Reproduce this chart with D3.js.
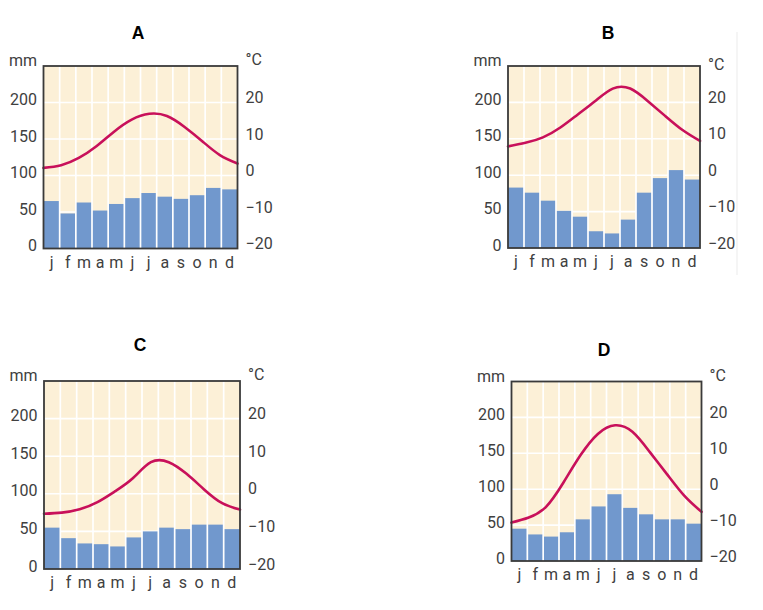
<!DOCTYPE html>
<html>
<head>
<meta charset="utf-8">
<script src="https://cdn.jsdelivr.net/npm/d3@7"></script>
<style>
  html, body { margin: 0; padding: 0; background: #fff; }
  svg { display: block; }
</style>
</head>
<body>
<svg id="chart" width="763" height="610"></svg>
<script>
// ---- data ----
const months = ["j", "f", "m", "a", "m", "j", "j", "a", "s", "o", "n", "d"];
const titles = ["A", "B", "C", "D"];
const mmTicks = [0, 50, 100, 150, 200];
const tempTicks = [-20, -10, 0, 10, 20];

const precipA = [65, 48, 63, 52, 61, 69, 76, 71, 68, 73, 83, 81];
const tempA   = [2.1, 2.8, 4.8, 8.0, 12.0, 15.3, 16.9, 16.3, 13.3, 9.4, 5.6, 3.3];

const precipB = [83, 76, 65, 51, 43, 23, 20, 39, 76, 96, 107, 94];
const tempB   = [7.9, 8.9, 10.4, 13.1, 16.7, 20.4, 23.8, 23.8, 20.4, 16.3, 12.4, 9.4];

const precipC = [55, 41, 34, 33, 30, 42, 50, 55, 53, 59, 59, 53];
const tempC   = [-5.3, -5.0, -4.1, -2.2, 0.7, 4.2, 8.4, 8.4, 5.3, 1.1, -2.5, -4.2];

const precipD = [45, 37, 34, 40, 58, 76, 93, 74, 65, 58, 58, 52];
const tempD   = [-9.3, -7.9, -4.9, 1.8, 9.5, 15.4, 17.8, 16.0, 10.4, 4.2, -1.8, -6.3];

// ---- layout (positions only) ----
const layout = [
  { left: 43.5, right: 237.5, top: 66,  bottom: 248.5, tx: 138, ty: 39, cdy: 0 },
  { left: 508,  right: 700,   top: 66,  bottom: 248,   tx: 608, ty: 39, cdy: 5 },
  { left: 44,   right: 240,   top: 381, bottom: 569,   tx: 140, ty: 351, cdy: 0 },
  { left: 511.5,right: 701.5, top: 381.5, bottom: 561, tx: 604, ty: 356, cdy: 0 }
];

const panels = [
  { title: titles[0], precip: precipA, temp: tempA },
  { title: titles[1], precip: precipB, temp: tempB },
  { title: titles[2], precip: precipC, temp: tempC },
  { title: titles[3], precip: precipD, temp: tempD }
];

const COL_BG = "#fcf0d7";
const COL_BAR = "#7198cd";
const COL_LINE = "#c8105a";
const COL_FRAME = "#3a3a3a";
const COL_TEXT = "#404040";
const FONT = "Roboto, 'Liberation Sans', sans-serif";
const FS = 16;

const svg = d3.select("#chart");

// faint separator line on the right of the image
svg.append("line")
  .attr("x1", 737).attr("x2", 737).attr("y1", 32).attr("y2", 275)
  .attr("stroke", "#ebebeb").attr("stroke-width", 1);

panels.forEach((p, k) => {
  const L = layout[k];
  const g = svg.append("g");
  const idx = d3.range(months.length);

  const xb = d3.scaleBand().domain(idx).range([L.left, L.right]).paddingInner(0).paddingOuter(0);
  const xp = d3.scalePoint().domain(idx).range([L.left, L.right]).padding(0);
  const y = d3.scaleLinear().domain([0, 250]).range([L.bottom, L.top]);
  const yt = d3.scaleLinear().domain([-20, 30]).range([L.bottom, L.top]);

  // background
  g.append("rect")
    .attr("x", L.left).attr("y", L.top)
    .attr("width", L.right - L.left).attr("height", L.bottom - L.top)
    .attr("fill", COL_BG);

  // horizontal grid
  g.selectAll(".hg").data(mmTicks.filter(d => d > 0)).enter().append("line")
    .attr("x1", L.left).attr("x2", L.right)
    .attr("y1", d => y(d)).attr("y2", d => y(d))
    .attr("stroke", "#ffffff").attr("stroke-width", 1.6);

  // bars
  g.selectAll(".bar").data(p.precip).enter().append("rect")
    .attr("x", (d, i) => xb(i))
    .attr("width", xb.bandwidth())
    .attr("y", d => y(d))
    .attr("height", d => y(0) - y(d))
    .attr("fill", COL_BAR);

  // vertical grid (month separators)
  g.selectAll(".vg").data(idx.slice(1)).enter().append("line")
    .attr("x1", i => xb(i)).attr("x2", i => xb(i))
    .attr("y1", L.top).attr("y2", L.bottom)
    .attr("stroke", "#ffffff").attr("stroke-width", 1.7);

  // temperature line
  const line = d3.line()
    .x((d, i) => xp(i))
    .y(d => yt(d))
    .curve(d3.curveNatural);
  g.append("path")
    .datum(p.temp)
    .attr("d", line)
    .attr("fill", "none")
    .attr("stroke", COL_LINE)
    .attr("stroke-width", 2.6)
    .attr("stroke-linecap", "round");

  // frame
  g.append("rect")
    .attr("x", L.left).attr("y", L.top)
    .attr("width", L.right - L.left).attr("height", L.bottom - L.top)
    .attr("fill", "none")
    .attr("stroke", COL_FRAME).attr("stroke-width", 1.8);

  // left axis (mm)
  const axL = d3.axisLeft(y).tickValues(mmTicks).tickSize(0).tickPadding(6.5);
  const gl = g.append("g").attr("transform", `translate(${L.left},0)`).call(axL);
  gl.select(".domain").remove();
  gl.selectAll("text")
    .attr("font-family", FONT).attr("font-size", FS)
    .attr("fill", COL_TEXT).attr("dy", "0.32em")
    .attr("transform", "translate(0,-3)");

  // right axis (°C)
  const axR = d3.axisRight(yt).tickValues(tempTicks).tickSize(0).tickPadding(8)
    .tickFormat(d => d < 0 ? "\u2212" + Math.abs(d) : String(d));
  const gr = g.append("g").attr("transform", `translate(${L.right},0)`).call(axR);
  gr.select(".domain").remove();
  gr.selectAll("text")
    .attr("font-family", FONT).attr("font-size", FS)
    .attr("fill", COL_TEXT).attr("dy", "0.32em")
    .attr("transform", "translate(0,-5)");

  // bottom axis (months)
  const axB = d3.axisBottom(xb).tickSize(0).tickPadding(0).tickFormat(i => months[i]);
  const gb = g.append("g").attr("transform", `translate(0,${L.bottom})`).call(axB);
  gb.select(".domain").remove();
  gb.selectAll("text")
    .attr("font-family", FONT).attr("font-size", FS)
    .attr("fill", COL_TEXT).attr("dy", null).attr("y", 19);

  // unit labels
  g.append("text")
    .attr("x", L.left - 6.5).attr("y", L.top)
    .attr("text-anchor", "end")
    .attr("font-family", FONT).attr("font-size", FS).attr("fill", COL_TEXT)
    .text("mm");
  g.append("text")
    .attr("x", L.right + 8).attr("y", L.top - 1 + L.cdy)
    .attr("text-anchor", "start")
    .attr("font-family", FONT).attr("font-size", FS).attr("fill", COL_TEXT)
    .text("°C");

  // title
  g.append("text")
    .attr("x", L.tx).attr("y", L.ty)
    .attr("text-anchor", "middle")
    .attr("font-family", "'Liberation Sans', Arial, sans-serif")
    .attr("font-weight", "bold").attr("font-size", 17.5).attr("fill", "#000")
    .text(p.title);
});
</script>
</body>
</html>
